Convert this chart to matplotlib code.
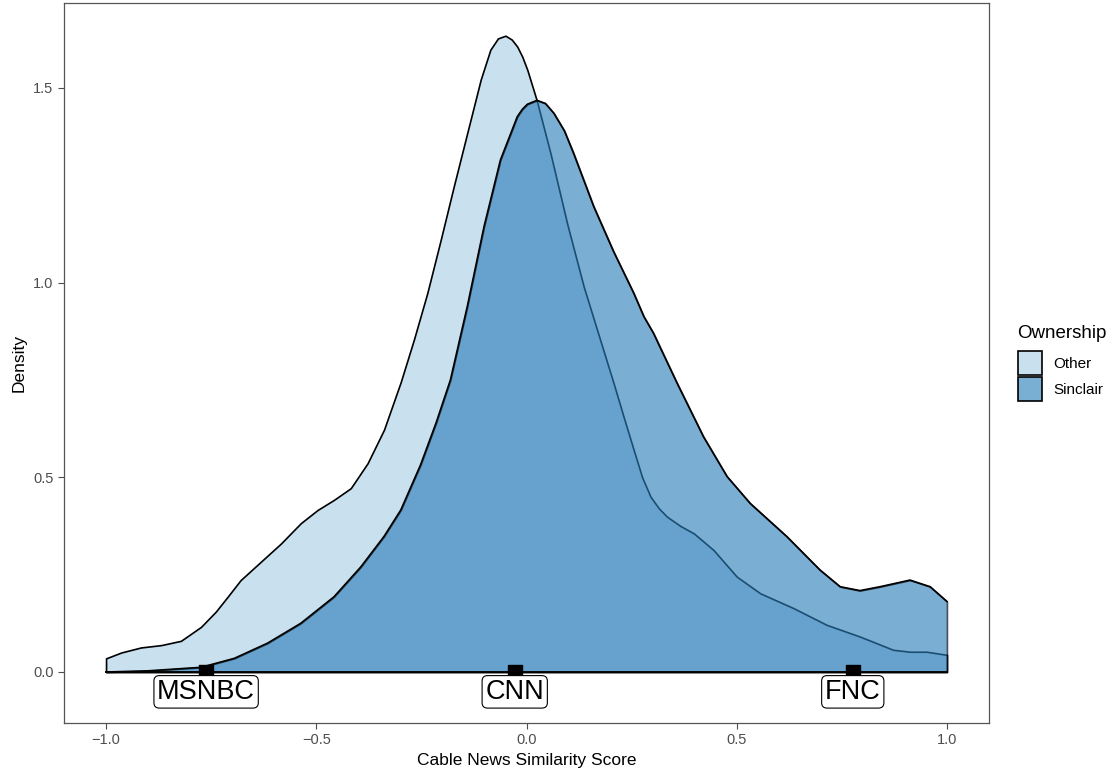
import matplotlib.pyplot as plt
from matplotlib.patches import Rectangle
import numpy as np

plt.rcParams['font.family'] = ['Liberation Sans', 'DejaVu Sans']

# density curves
other_x = [-1.0, -0.964, -0.917, -0.869, -0.822, -0.774, -0.739, -0.711, -0.680, -0.632,
           -0.584, -0.537, -0.497, -0.458, -0.418, -0.378, -0.339, -0.299, -0.268, -0.236,
           -0.204, -0.173, -0.141, -0.109, -0.086, -0.068, -0.050, -0.035, -0.022, -0.010,
           0.002, 0.024, 0.057, 0.097, 0.136, 0.176, 0.207, 0.231, 0.255, 0.275,
           0.295, 0.315, 0.334, 0.366, 0.398, 0.445, 0.500, 0.556, 0.635, 0.714,
           0.793, 0.872, 0.912, 0.952, 1.0]
other_y = [0.035, 0.050, 0.063, 0.069, 0.080, 0.116, 0.155, 0.193, 0.236, 0.283,
           0.330, 0.382, 0.416, 0.442, 0.472, 0.536, 0.622, 0.745, 0.853, 0.973,
           1.110, 1.247, 1.384, 1.521, 1.598, 1.627, 1.634, 1.624, 1.606, 1.580,
           1.546, 1.469, 1.332, 1.150, 0.990, 0.850, 0.742, 0.655, 0.570, 0.500,
           0.450, 0.420, 0.399, 0.375, 0.356, 0.313, 0.245, 0.202, 0.164, 0.121,
           0.091, 0.057, 0.052, 0.052, 0.044]

sinclair_x = [-1.0, -0.90, -0.774, -0.695, -0.616, -0.537, -0.458, -0.394, -0.339, -0.299,
              -0.252, -0.215, -0.181, -0.141, -0.101, -0.062, -0.022, -0.010, 0.002, 0.025,
              0.045, 0.065, 0.090, 0.112, 0.160, 0.207, 0.255, 0.279, 0.302, 0.358,
              0.421, 0.477, 0.532, 0.619, 0.698, 0.746, 0.793, 0.841, 0.912, 0.960,
              1.0]
sinclair_y = [0.0, 0.003, 0.012, 0.035, 0.074, 0.125, 0.193, 0.270, 0.348, 0.416,
              0.532, 0.640, 0.750, 0.938, 1.144, 1.315, 1.426, 1.445, 1.458, 1.468,
              1.460, 1.435, 1.390, 1.332, 1.195, 1.080, 0.973, 0.913, 0.870, 0.742,
              0.604, 0.502, 0.433, 0.348, 0.262, 0.219, 0.209, 0.219, 0.236, 0.219,
              0.181]

networks = ['MSNBC', 'CNN', 'FNC']
network_x = [-0.762, -0.028, 0.776]

groups = ['Other', 'Sinclair']
group_colors = ['#C9E0EE', '#79AFD3']

fig = plt.figure(figsize=(11.09, 7.71), dpi=100)
ax = fig.add_axes([64 / 1109, 1 - 723 / 771, (989 - 64) / 1109, (723 - 3) / 771])

ax.fill_between(other_x, other_y, 0, facecolor='#C9E0EE', edgecolor='black', linewidth=1.2)
ax.fill_between(sinclair_x, sinclair_y, 0, facecolor='#2A7DB9', alpha=0.62,
                edgecolor='black', linewidth=1.2)
ax.plot(sinclair_x, sinclair_y, color='black', linewidth=1.2)
ax.axhline(0, xmin=(-1 + 1.1) / 2.2, xmax=(1 + 1.1) / 2.2, color='black', linewidth=1.3)

ax.scatter(network_x, [0] * 3, marker='s', s=88, color='black', zorder=5)
for name, x in zip(networks, network_x):
    ax.text(x, -0.051, name, ha='center', va='center', fontsize=19.5,
            bbox=dict(boxstyle='round,pad=0.12,rounding_size=0.2', facecolor='white',
                      edgecolor='black', linewidth=0.8), zorder=6)

ax.set_xlim(-1.1, 1.1)
ax.set_ylim(-0.131, 1.718)
ax.set_xticks([-1.0, -0.5, 0.0, 0.5, 1.0])
ax.set_xticklabels(['\u22121.0', '\u22120.5', '0.0', '0.5', '1.0'])
ax.set_yticks([0.0, 0.5, 1.0, 1.5])
ax.set_yticklabels(['0.0', '0.5', '1.0', '1.5'])
ax.tick_params(colors='#4D4D4D', labelsize=10.5, length=4, width=0.8)
for s in ax.spines.values():
    s.set_color('#555555')
    s.set_linewidth(0.9)

ax.set_xlabel('Cable News Similarity Score', fontsize=12.5, labelpad=4)
ax.set_ylabel('Density', fontsize=12.5, labelpad=5)

# legend drawn by hand in figure pixels
W, H = 1109, 771
fig.text(1017 / W, 1 - 333 / H, 'Ownership', fontsize=13.5, va='center', ha='left')
for i, (g, c) in enumerate(zip(groups, group_colors)):
    top = 351 + i * 26
    fig.add_artist(Rectangle((1018 / W, 1 - (top + 24) / H), 24 / W, 24 / H,
                             transform=fig.transFigure, facecolor=c, edgecolor='black',
                             linewidth=1.2))
    fig.text(1053 / W, 1 - (top + 13) / H, g, fontsize=11, va='center', ha='left')

fig.savefig('out.png', dpi=100, facecolor='white')
